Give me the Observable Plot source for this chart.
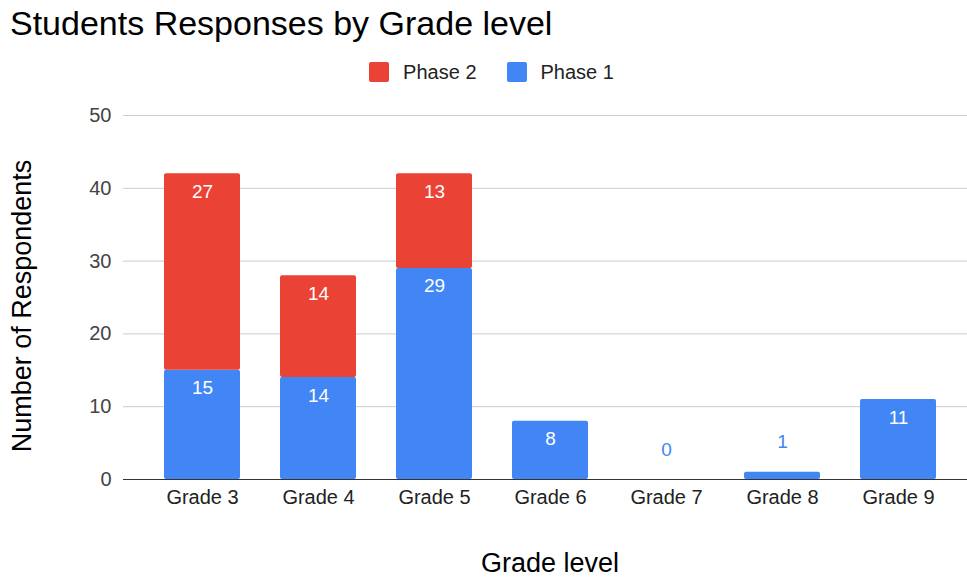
<!DOCTYPE html>
<html><head><meta charset="utf-8">
<script src="https://cdn.jsdelivr.net/npm/d3@7"></script>
<script src="https://cdn.jsdelivr.net/npm/@observablehq/plot@0.6"></script>
<style>
body{margin:0;background:#fff;font-family:"Liberation Sans",Arial,sans-serif;}
#wrap{position:relative;width:967px;height:579px;overflow:hidden;}
#chart{position:absolute;left:0;top:0;}
#title{position:absolute;left:10px;top:6px;font-size:34px;line-height:34px;color:#000;white-space:nowrap;}
#legend{position:absolute;left:8px;top:62px;width:967px;height:20px;display:flex;justify-content:center;align-items:center;font-size:20px;color:#222;}
.item{display:flex;align-items:center;margin:0 15px;}
.sw{width:20px;height:20px;border-radius:2px;margin-right:14px;}
#ytitle{position:absolute;left:22px;top:306px;transform:translate(-50%,-50%) rotate(-90deg);font-size:27px;color:#000;white-space:nowrap;}
#xtitle{position:absolute;left:550px;top:563px;transform:translate(-50%,-50%);font-size:27px;color:#000;white-space:nowrap;}
</style></head>
<body>
<div id="wrap">
  <div id="chart"></div>
  <div id="title">Students Responses by Grade level</div>
  <div id="legend"></div>
  <div id="ytitle">Number of Respondents</div>
  <div id="xtitle">Grade level</div>
</div>
<script>
const grades = ["Grade 3","Grade 4","Grade 5","Grade 6","Grade 7","Grade 8","Grade 9"];
const phase1 = [15,14,29,8,0,1,11];
const phase2 = [27,14,13,0,0,0,0];
const seriesNames = ["Phase 1","Phase 2"];
const seriesColors = ["#4285F4","#EA4335"];
const legendOrder = ["Phase 2","Phase 1"];
const yTicks = [0,10,20,30,40,50];

const rows = [];
grades.forEach((g,i)=>{
  rows.push({grade:g, phase:"Phase 1", value:phase1[i], y1:0, y2:phase1[i]});
  rows.push({grade:g, phase:"Phase 2", value:phase2[i], y1:phase1[i], y2:phase1[i]+phase2[i]});
});
const barRows = rows.filter(d=>d.value>0);
const inside = rows.filter(d=>d.value>=5);
const outside = rows.filter(d=>d.phase==="Phase 1" && d.value<5);

const chart = Plot.plot({
  width:967, height:579,
  marginTop:115, marginBottom:100, marginLeft:123, marginRight:0,
  style:{fontFamily:'"Liberation Sans",Arial,sans-serif', background:"#fff"},
  x:{domain:grades, padding:0.345, insetRight:-9},
  y:{domain:[0,50]},
  color:{domain:seriesNames, range:seriesColors},
  marks:[
    Plot.ruleY(yTicks.filter(t=>t>0), {stroke:"#cccccc", strokeWidth:1}),
    Plot.barY(barRows, {x:"grade", y1:"y1", y2:"y2", fill:"phase", rx:2}),
    Plot.ruleY([0], {stroke:"#333", strokeWidth:1.2}),
    Plot.text(inside, {x:"grade", y:"y2", text:d=>String(d.value), fill:"#fff", dy:18, fontSize:19}),
    Plot.text(outside, {x:"grade", y:"y2", text:d=>String(d.value), fill:"#4285F4", dy:-30, fontSize:19}),
    Plot.axisY({ticks:yTicks, tickSize:0, tickPadding:12, fontSize:20, color:"#444", label:null}),
    Plot.axisX({tickSize:0, tickPadding:10, fontSize:20, color:"#222", label:null})
  ]
});
document.getElementById("chart").appendChild(chart);

const leg = document.getElementById("legend");
legendOrder.forEach(name=>{
  const it = document.createElement("div"); it.className="item";
  const sw = document.createElement("div"); sw.className="sw";
  sw.style.background = seriesColors[seriesNames.indexOf(name)];
  const tx = document.createElement("span"); tx.textContent = name;
  it.appendChild(sw); it.appendChild(tx); leg.appendChild(it);
});
</script>
</body></html>
